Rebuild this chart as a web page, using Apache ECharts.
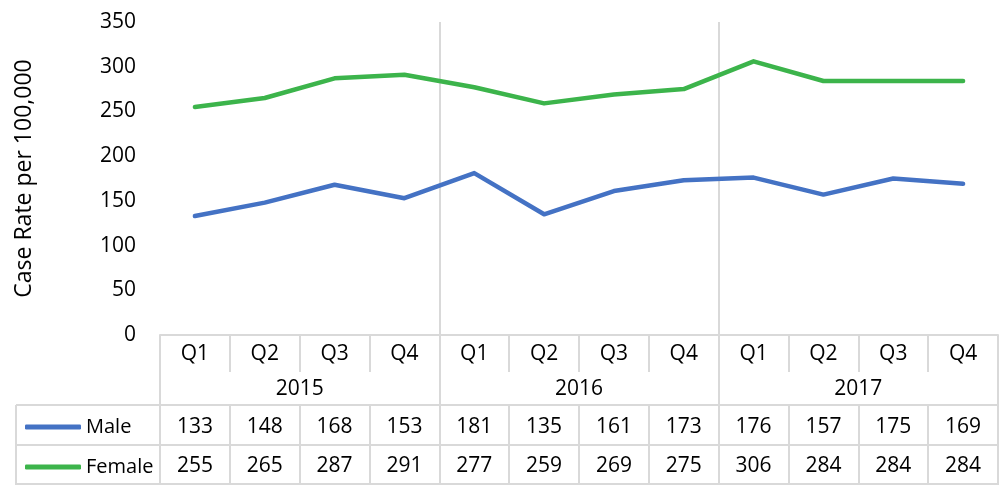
<!DOCTYPE html>
<html>
<head>
<meta charset="utf-8">
<script src="https://cdn.jsdelivr.net/npm/echarts@6/dist/echarts.min.js"></script>
<style>html,body{margin:0;padding:0;background:#fff}#c{width:1000px;height:485px}</style>
</head>
<body>
<div id="c"></div>
<script>
var quarters = ['Q1','Q2','Q3','Q4','Q1','Q2','Q3','Q4','Q1','Q2','Q3','Q4'];
var years = ['2015','2016','2017'];
var male = [133,148,168,153,181,135,161,173,176,157,175,169];
var female = [255,265,287,291,277,259,269,275,306,284,284,284];
var yTicks = {min: 0, max: 350, interval: 50};

var FONT = 'Open Sans';
var FS = 21;
var BORDER = '#d9d9d9';
var GL = 160, GR = 2, GT = 22, GB = 150;
var W = 1000, H = 485;
var axisY = H - GB;

var chart = echarts.init(document.getElementById('c'), null, {renderer: 'canvas'});
var txt = {fontFamily: FONT, fontSize: FS, color: '#000'};
function lbl(margin) { return Object.assign({interval: 0, margin: margin}, txt); }

chart.setOption({
  animation: false,
  textStyle: {fontFamily: FONT},
  grid: {left: GL, right: GR, top: GT, bottom: GB},
  legend: {
    orient: 'vertical', left: 20, top: 411, itemWidth: 56, itemHeight: 5, itemGap: 18,
    icon: 'roundRect',
    textStyle: {fontFamily: FONT, fontSize: 20, color: '#000', lineHeight: 22},
    data: ['Male', 'Female']
  },
  xAxis: [
    {type: 'category', data: quarters, boundaryGap: true,
     axisLine: {show: true, lineStyle: {color: BORDER, width: 2}},
     axisTick: {show: true, interval: 0, length: 37, lineStyle: {color: BORDER, width: 2}},
     axisLabel: lbl(9), splitLine: {show: false}},
    {type: 'category', data: years, boundaryGap: true, position: 'bottom', offset: 0,
     axisLine: {show: false},
     axisTick: {show: true, interval: 0, length: 150, lineStyle: {color: BORDER, width: 2}},
     axisLabel: lbl(44),
     splitLine: {show: true, showMinLine: false, showMaxLine: false, lineStyle: {color: BORDER, width: 2}}},
    {type: 'category', data: male.map(String), boundaryGap: true, position: 'bottom', offset: 70,
     axisLine: {show: true, lineStyle: {color: BORDER, width: 2}},
     axisTick: {show: true, interval: 0, length: 80, lineStyle: {color: BORDER, width: 2}},
     axisLabel: lbl(12)},
    {type: 'category', data: female.map(String), boundaryGap: true, position: 'bottom', offset: 110,
     axisLine: {show: true, lineStyle: {color: BORDER, width: 2}},
     axisTick: {show: false},
     axisLabel: lbl(11)},
    {type: 'category', data: quarters, boundaryGap: true, position: 'bottom', offset: 149,
     axisLine: {show: true, lineStyle: {color: BORDER, width: 2}},
     axisTick: {show: false}, axisLabel: {show: false}}
  ],
  yAxis: {
    type: 'value', min: yTicks.min, max: yTicks.max, interval: yTicks.interval,
    axisLine: {show: false}, axisTick: {show: false}, splitLine: {show: false},
    axisLabel: Object.assign({margin: 24}, txt),
    name: 'Case Rate per 100,000', nameLocation: 'middle', nameGap: 124, nameRotate: 90,
    nameTextStyle: Object.assign({}, txt, {fontSize: 23})
  },
  graphic: [
    {type: 'line', shape: {x1: 16, y1: axisY + 70, x2: GL, y2: axisY + 70}, style: {stroke: BORDER, lineWidth: 2}, silent: true},
    {type: 'line', shape: {x1: 16, y1: axisY + 110, x2: GL, y2: axisY + 110}, style: {stroke: BORDER, lineWidth: 2}, silent: true},
    {type: 'line', shape: {x1: 16, y1: axisY + 149, x2: GL, y2: axisY + 149}, style: {stroke: BORDER, lineWidth: 2}, silent: true},
    {type: 'line', shape: {x1: 16, y1: axisY + 70, x2: 16, y2: axisY + 150}, style: {stroke: BORDER, lineWidth: 2}, silent: true}
  ],
  series: [
    {name: 'Male', type: 'line', data: male, symbol: 'none', color: '#4472C4',
     lineStyle: {width: 4.5, cap: 'round', join: 'round'}},
    {name: 'Female', type: 'line', data: female, symbol: 'none', color: '#3CB44B',
     lineStyle: {width: 4.5, cap: 'round', join: 'round'}}
  ]
});
</script>
</body>
</html>
